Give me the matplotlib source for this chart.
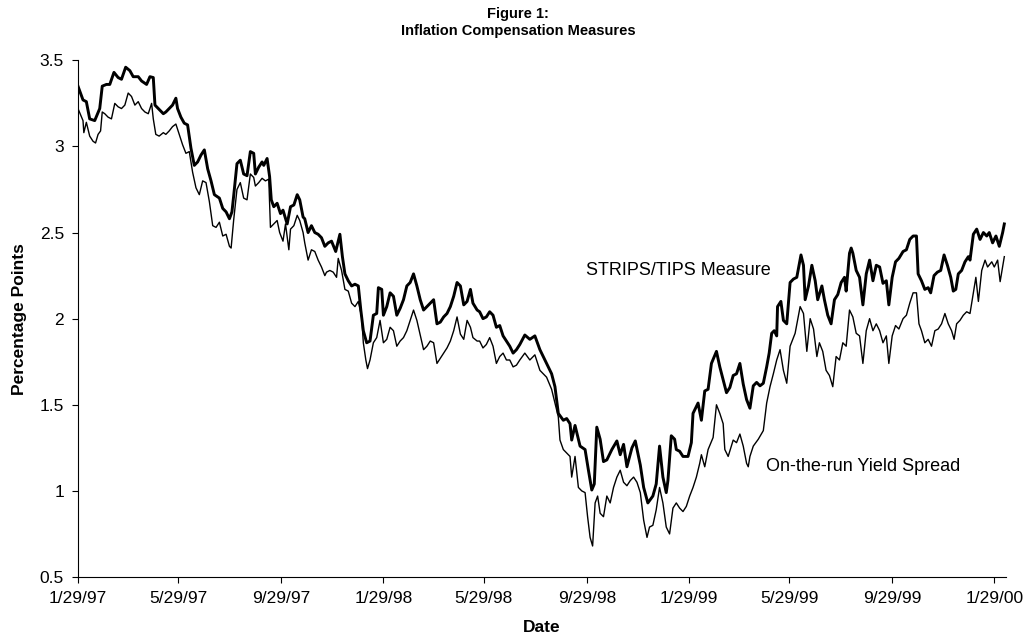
import numpy as np
import pandas as pd
import matplotlib
matplotlib.use("Agg")
import matplotlib.pyplot as plt

plt.rcParams['font.family'] = ['Liberation Sans', 'DejaVu Sans']

start = pd.Timestamp('1997-01-29')

# STRIPS/TIPS measure: days after 1/29/97 and value (percentage points)
strips_days = [0, 6, 10, 14, 20, 26, 29, 34, 38, 43, 48, 52, 57, 62, 66, 72, 76, 82, 86, 90,
               92, 96, 102, 105, 109, 113, 117, 119, 123, 127, 131, 135, 139, 143, 147, 151,
               155, 159, 163, 169, 173, 177, 181, 184, 186, 190, 194, 198, 202, 206, 210, 212,
               216, 220, 222, 226, 229, 231, 234, 238, 242, 245, 250, 254, 258, 262, 265, 269,
               271, 275, 279, 283, 287, 291, 295, 299, 303, 308, 313, 316, 319, 323, 327, 331,
               335, 338, 341, 345, 349, 353, 357, 359, 363, 365, 369, 373, 377, 381, 385, 389,
               393, 397, 401, 405, 409, 413, 417, 421, 425, 429, 433, 437, 441, 445, 449, 453,
               457, 461, 465, 469, 472, 477, 480, 484, 488, 492, 496, 500, 504, 508, 512, 516,
               520, 524, 528, 534, 540, 546, 552, 560, 566, 570, 574, 580, 584, 588, 590, 594,
               600, 606, 610, 614, 617, 620, 624, 628, 632, 638, 644, 648, 652, 656, 662, 666,
               672, 676, 681, 687, 691, 695, 699, 703, 705, 709, 713, 715, 719, 723, 729, 733,
               735, 741, 745, 749, 753, 757, 763, 767, 771, 775, 779, 783, 787, 791, 795, 799,
               803, 807, 811, 815, 819, 823, 826, 829, 832, 835, 836, 840, 843, 847, 851, 855,
               859, 864, 867, 869, 873, 877, 881, 884, 889, 892, 896, 900, 904, 908, 912, 916,
               918, 922, 924, 926, 930, 934, 938, 942, 946, 950, 954, 958, 962, 966, 969, 973,
               977, 981, 986, 990, 994, 998, 1002, 1004, 1008, 1012, 1016, 1019, 1023, 1027,
               1031, 1035, 1039, 1043, 1046, 1049, 1052, 1056, 1060, 1064, 1066, 1070, 1074,
               1078, 1082, 1086, 1089, 1093, 1097, 1101, 1105, 1107]
strips_vals = [3.35, 3.27, 3.26, 3.16, 3.15, 3.22, 3.35, 3.36, 3.36, 3.43, 3.40, 3.39, 3.46, 3.44,
               3.405, 3.405, 3.38, 3.36, 3.405, 3.40, 3.24, 3.22, 3.19, 3.20, 3.22, 3.24, 3.28,
               3.22, 3.17, 3.135, 3.125, 2.99, 2.89, 2.91, 2.95, 2.98, 2.87, 2.80, 2.72, 2.70,
               2.64, 2.62, 2.58, 2.62, 2.71, 2.90, 2.92, 2.84, 2.83, 2.97, 2.96, 2.84, 2.88, 2.91,
               2.89, 2.93, 2.825, 2.69, 2.65, 2.67, 2.61, 2.63, 2.55, 2.65, 2.66, 2.72, 2.69, 2.59,
               2.58, 2.50, 2.54, 2.50, 2.49, 2.47, 2.42, 2.44, 2.45, 2.39, 2.49, 2.36, 2.26, 2.22,
               2.19, 2.20, 2.19, 2.05, 1.93, 1.86, 1.87, 2.02, 2.03, 2.18, 2.17, 2.02, 2.07, 2.15,
               2.13, 2.02, 2.06, 2.11, 2.19, 2.21, 2.26, 2.19, 2.11, 2.05, 2.07, 2.09, 2.11, 1.97,
               1.98, 2.01, 2.03, 2.07, 2.13, 2.21, 2.19, 2.08, 2.10, 2.17, 2.09, 2.05, 2.04, 2.00,
               2.01, 2.04, 2.02, 1.95, 1.96, 1.90, 1.87, 1.84, 1.80, 1.82, 1.85, 1.905, 1.88, 1.90,
               1.82, 1.74, 1.68, 1.605, 1.45, 1.41, 1.42, 1.39, 1.295, 1.38, 1.26, 1.24, 1.12,
               1.005, 1.04, 1.37, 1.30, 1.17, 1.18, 1.24, 1.29, 1.21, 1.27, 1.14, 1.25, 1.29, 1.15,
               1.02, 0.93, 0.97, 1.04, 1.26, 1.08, 0.99, 1.06, 1.32, 1.30, 1.24, 1.23, 1.20, 1.20,
               1.28, 1.45, 1.51, 1.41, 1.58, 1.59, 1.74, 1.81, 1.72, 1.645, 1.57, 1.60, 1.67, 1.68,
               1.74, 1.62, 1.53, 1.48, 1.61, 1.63, 1.61, 1.625, 1.72, 1.80, 1.915, 1.93, 1.90, 2.07,
               2.10, 1.99, 1.97, 2.21, 2.23, 2.24, 2.37, 2.31, 2.11, 2.19, 2.31, 2.22, 2.11, 2.19,
               2.11, 2.02, 1.97, 2.11, 2.14, 2.21, 2.24, 2.16, 2.38, 2.41, 2.38, 2.28, 2.24, 2.08,
               2.26, 2.34, 2.22, 2.31, 2.30, 2.205, 2.22, 2.08, 2.24, 2.33, 2.35, 2.39, 2.40, 2.46,
               2.48, 2.48, 2.26, 2.22, 2.17, 2.18, 2.15, 2.25, 2.27, 2.28, 2.37, 2.31, 2.24, 2.16,
               2.17, 2.26, 2.28, 2.33, 2.36, 2.34, 2.49, 2.52, 2.46, 2.50, 2.48, 2.50, 2.44, 2.48,
               2.42, 2.50, 2.55]

# On-the-run yield spread
otr_days = [0, 6, 7, 10, 14, 18, 21, 24, 27, 29, 32, 36, 40, 44, 48, 52, 56, 60, 64, 68, 72, 76,
            80, 84, 88, 90, 93, 97, 102, 105, 109, 113, 117, 121, 125, 129, 133, 137, 141, 145,
            149, 153, 157, 161, 165, 169, 173, 177, 181, 183, 186, 190, 194, 198, 202, 206, 210,
            212, 216, 220, 224, 228, 230, 234, 238, 241, 245, 248, 252, 254, 258, 262, 265, 269,
            271, 275, 279, 283, 287, 291, 295, 297, 301, 305, 309, 311, 315, 319, 323, 327, 331,
            335, 339, 341, 344, 346, 349, 353, 357, 361, 365, 369, 373, 377, 381, 385, 389, 393,
            397, 401, 405, 409, 413, 417, 421, 425, 429, 433, 437, 441, 445, 449, 453, 457, 461,
            465, 469, 472, 477, 480, 484, 488, 492, 496, 500, 504, 508, 512, 516, 520, 524, 528,
            534, 540, 546, 552, 560, 566, 570, 574, 576, 580, 584, 588, 590, 594, 598, 602, 606,
            609, 612, 615, 618, 621, 624, 628, 632, 636, 640, 644, 648, 652, 656, 660, 664, 668,
            672, 676, 680, 683, 687, 691, 695, 699, 703, 707, 711, 715, 719, 723, 727, 731, 735,
            739, 743, 745, 749, 753, 759, 763, 767, 771, 773, 777, 783, 787, 791, 795, 799, 801,
            803, 807, 813, 819, 823, 827, 831, 835, 839, 843, 847, 851, 857, 863, 867, 871, 875,
            879, 883, 886, 890, 894, 898, 902, 906, 910, 914, 918, 922, 926, 930, 934, 938, 942,
            946, 950, 954, 958, 962, 966, 969, 973, 977, 981, 986, 990, 994, 998, 1002, 1005,
            1008, 1012, 1016, 1020, 1024, 1028, 1032, 1036, 1040, 1044, 1047, 1050, 1054, 1058,
            1062, 1066, 1069, 1073, 1076, 1080, 1084, 1087, 1092, 1095, 1099, 1102, 1105, 1107]
otr_vals = [3.22, 3.15, 3.08, 3.14, 3.06, 3.03, 3.02, 3.07, 3.09, 3.20, 3.19, 3.17, 3.16, 3.25,
            3.23, 3.22, 3.24, 3.31, 3.29, 3.24, 3.26, 3.22, 3.20, 3.19, 3.25, 3.16, 3.07, 3.06,
            3.08, 3.07, 3.09, 3.115, 3.13, 3.07, 3.01, 2.96, 2.97, 2.85, 2.76, 2.72, 2.80, 2.79,
            2.68, 2.54, 2.53, 2.56, 2.48, 2.49, 2.42, 2.41, 2.57, 2.75, 2.79, 2.70, 2.69, 2.84,
            2.82, 2.77, 2.79, 2.815, 2.80, 2.81, 2.53, 2.55, 2.57, 2.50, 2.45, 2.55, 2.40, 2.52,
            2.54, 2.60, 2.57, 2.50, 2.44, 2.34, 2.40, 2.39, 2.34, 2.30, 2.25, 2.27, 2.28, 2.27,
            2.24, 2.35, 2.28, 2.17, 2.16, 2.09, 2.07, 2.10, 2.01, 1.86, 1.76, 1.71, 1.76, 1.86,
            1.89, 1.99, 1.86, 1.88, 1.95, 1.93, 1.84, 1.87, 1.89, 1.93, 1.99, 2.05, 1.99, 1.905,
            1.82, 1.84, 1.87, 1.86, 1.74, 1.77, 1.80, 1.83, 1.87, 1.93, 2.01, 1.91, 1.88, 1.99,
            1.95, 1.89, 1.87, 1.87, 1.83, 1.85, 1.89, 1.84, 1.74, 1.78, 1.80, 1.76, 1.76, 1.72,
            1.73, 1.76, 1.80, 1.76, 1.79, 1.70, 1.66, 1.59, 1.51, 1.43, 1.295, 1.24, 1.22, 1.20,
            1.08, 1.20, 1.02, 1.00, 0.99, 0.85, 0.73, 0.68, 0.93, 0.97, 0.87, 0.85, 0.97, 0.93,
            1.02, 1.08, 1.12, 1.05, 1.03, 1.06, 1.08, 1.05, 0.99, 0.83, 0.73, 0.79, 0.80, 0.89,
            1.02, 0.93, 0.79, 0.75, 0.90, 0.93, 0.90, 0.88, 0.91, 0.97, 1.02, 1.08, 1.16, 1.21,
            1.14, 1.24, 1.31, 1.50, 1.45, 1.39, 1.24, 1.20, 1.295, 1.28, 1.33, 1.26, 1.16, 1.14,
            1.20, 1.26, 1.30, 1.35, 1.51, 1.605, 1.68, 1.76, 1.82, 1.70, 1.625, 1.84, 1.915, 2.07,
            2.03, 1.81, 2.00, 1.94, 1.78, 1.86, 1.81, 1.70, 1.67, 1.605, 1.78, 1.76, 1.86, 1.84,
            2.05, 2.01, 1.915, 1.90, 1.74, 1.93, 2.00, 1.93, 1.97, 1.93, 1.86, 1.90, 1.74, 1.90,
            1.96, 1.94, 2.00, 2.02, 2.09, 2.15, 2.15, 1.97, 1.93, 1.86, 1.88, 1.84, 1.93, 1.94,
            1.97, 2.03, 1.97, 1.93, 1.88, 1.97, 1.99, 2.02, 2.04, 2.03, 2.12, 2.24, 2.10, 2.28,
            2.34, 2.30, 2.33, 2.30, 2.34, 2.215, 2.30, 2.36]

tick_dates = ['1997-01-29', '1997-05-29', '1997-09-29', '1998-01-29', '1998-05-29',
              '1998-09-29', '1999-01-29', '1999-05-29', '1999-09-29', '2000-01-29']
tick_labels = ['1/29/97', '5/29/97', '9/29/97', '1/29/98', '5/29/98',
               '9/29/98', '1/29/99', '5/29/99', '9/29/99', '1/29/00']

strips_x = start + pd.to_timedelta(strips_days, unit='D')
otr_x = start + pd.to_timedelta(otr_days, unit='D')

fig = plt.figure(figsize=(10.26, 6.37), dpi=100)
ax = fig.add_axes([0.076, 0.0942, 0.9045, 0.8111])

ax.plot(otr_x, otr_vals, color='black', lw=1.0)
ax.plot(strips_x, strips_vals, color='black', lw=2.1)

ax.set_xlim(start, start + pd.Timedelta(days=1109))
ax.set_ylim(0.5, 3.5)
ax.set_yticks([0.5, 1, 1.5, 2, 2.5, 3, 3.5])
ax.set_yticklabels(['0.5', '1', '1.5', '2', '2.5', '3', '3.5'])
ax.set_xticks(pd.to_datetime(tick_dates))
ax.set_xticklabels(tick_labels)

for s in ['top', 'right']:
    ax.spines[s].set_visible(False)
for s in ['left', 'bottom']:
    ax.spines[s].set_linewidth(0.8)
ax.tick_params(axis='both', direction='out', length=4, width=0.8, labelsize=12.5, pad=6)

ax.set_xlabel('Date', fontsize=12.5, fontweight='bold', labelpad=10)
ax.set_ylabel('Percentage Points', fontsize=12.5, fontweight='bold', labelpad=9)

fig.text(0.505, 0.978, 'Figure 1:', ha='center', va='center', fontsize=10.5, fontweight='bold')
fig.text(0.505, 0.951, 'Inflation Compensation Measures', ha='center', va='center',
         fontsize=10.5, fontweight='bold')

ax.text(pd.Timestamp('1998-09-28'), 2.28, 'STRIPS/TIPS Measure', fontsize=13, va='center')
ax.text(pd.Timestamp('1999-05-01'), 1.14, 'On-the-run Yield Spread', fontsize=13, va='center')

fig.savefig('out.png', dpi=100)
